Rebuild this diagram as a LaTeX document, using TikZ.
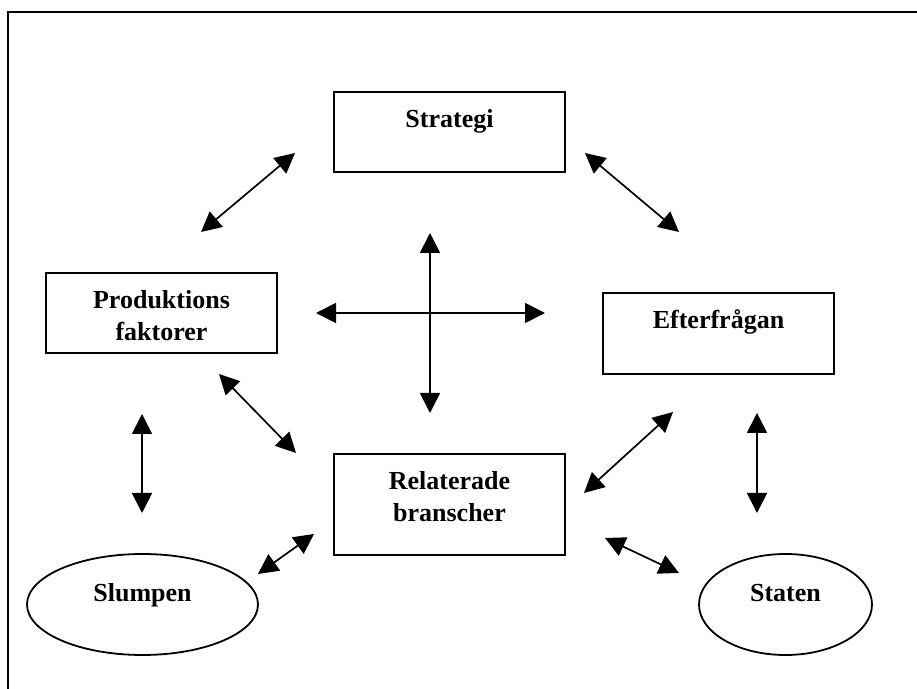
\documentclass[tikz,border=0pt]{standalone}
\usepackage{fontspec}
\setmainfont{Liberation Serif}
\usetikzlibrary{arrows.meta,shapes.geometric}

% text placed at the top of a shape: width, height, first baseline, text
\newcommand{\toptext}[4]{%
  \begin{minipage}[c][#2][t]{#1}\centering\rule{0pt}{#3}#4\end{minipage}}

\tikzset{
  diagfont/.style={font=\bfseries\fontsize{13}{16}\selectfont},
  factorbox/.style={draw, rectangle, line width=0.9pt, inner sep=0pt, diagfont},
  chancebox/.style={draw, ellipse, line width=0.9pt, inner sep=0pt, diagfont},
  link/.style={line width=0.85pt, {Triangle[length=10pt,width=10pt]}-{Triangle[length=10pt,width=10pt]}}
}

\begin{document}
\begin{tikzpicture}[x=0.5pt, y=-0.5pt]

    \useasboundingbox (0,0) rectangle (917,689);

    % Outer frame (right and bottom sides fall outside the page)
    \draw[line width=1pt] (7.5,12) rectangle (940,710);

    % The diamond boxes
    \node[factorbox] (strategi) at (449.5,132)
        {\toptext{115.5pt}{40pt}{17.75pt}{Strategi}};
    \node[factorbox] (produktion) at (161.5,313)
        {\toptext{115.5pt}{40pt}{17.75pt}{Produktions\\faktorer}};
    \node[factorbox] (efterfragan) at (718.5,333.5)
        {\toptext{115.5pt}{40.5pt}{17.75pt}{Efterfrågan}};
    \node[factorbox] (relaterade) at (449.5,504.5)
        {\toptext{115.5pt}{50.5pt}{17.75pt}{Relaterade\\branscher}};

    % Outside influences
    \node[chancebox, minimum width=115.5pt, minimum height=50.5pt] (slumpen) at (142.5,604.5)
        {\toptext{60pt}{30pt}{13.75pt}{Slumpen}};
    \node[chancebox, minimum width=86.5pt, minimum height=50.5pt] (staten) at (785.5,604.5)
        {\toptext{60pt}{30pt}{13.75pt}{Staten}};

    % Arrow end points
    \coordinate (sp1) at (295,153);  \coordinate (sp2) at (201,232);
    \coordinate (se1) at (585,153);  \coordinate (se2) at (679,232);
    \coordinate (cv1) at (430,233);  \coordinate (cv2) at (430,413);
    \coordinate (ch1) at (316,313);  \coordinate (ch2) at (545,313);
    \coordinate (pr1) at (219,374);  \coordinate (pr2) at (296,453);
    \coordinate (ps1) at (142,414);  \coordinate (ps2) at (142,513);
    \coordinate (rs1) at (314,534);  \coordinate (rs2) at (258,574);
    \coordinate (er1) at (673,412);  \coordinate (er2) at (584,493);
    \coordinate (es1) at (757,413);  \coordinate (es2) at (757,513);
    \coordinate (rt1) at (605,538);  \coordinate (rt2) at (679,573);

    % Double headed arrows
    \foreach \a/\b in {sp1/sp2, se1/se2, cv1/cv2, ch1/ch2, pr1/pr2,
                       ps1/ps2, rs1/rs2, er1/er2, es1/es2, rt1/rt2} {
        \draw[link] (\a) -- (\b);
    }

\end{tikzpicture}
\end{document}
